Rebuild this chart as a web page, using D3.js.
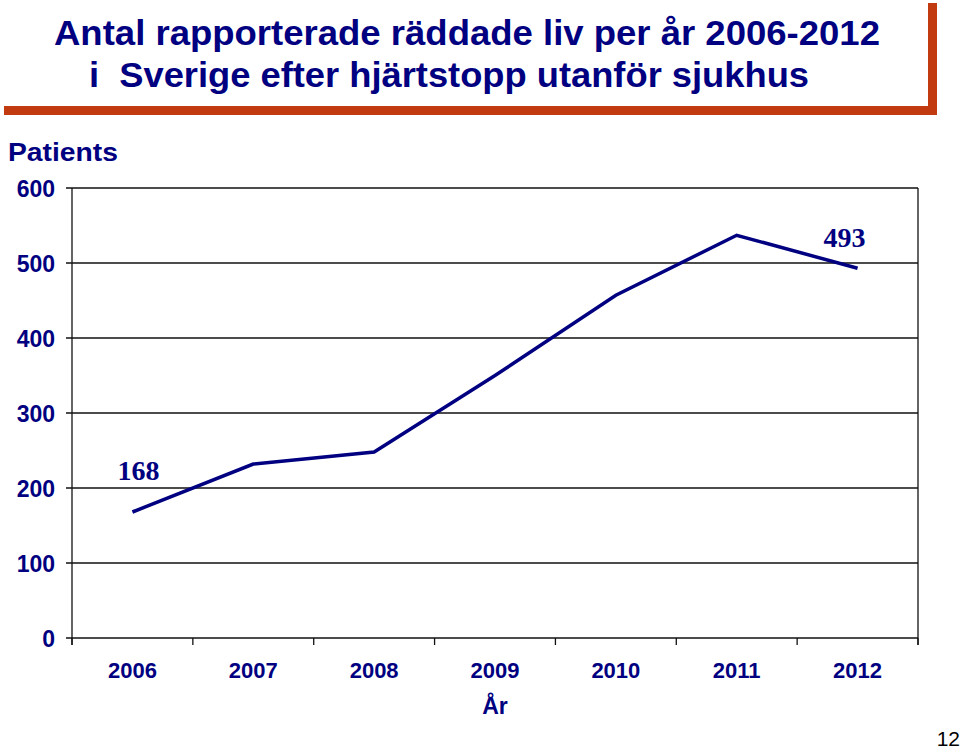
<!DOCTYPE html>
<html><head><meta charset="utf-8">
<script src="https://cdn.jsdelivr.net/npm/d3@7"></script>
<style>body{margin:0;background:#fff}svg{display:block}</style>
</head><body>
<svg id="c" width="960" height="749"></svg>
<script>
const years = ["2006","2007","2008","2009","2010","2011","2012"];
const patients = [168, 232, 248, 350, 457, 537, 493];
const yTicks = [0, 100, 200, 300, 400, 500, 600];
const titleLines = ["Antal rapporterade räddade liv per år 2006-2012", "i  Sverige efter hjärtstopp utanför sjukhus"];
const labeled = [{i:0, dx:6, dy:-32}, {i:6, dx:-13, dy:-21}];

const navy = "#000080";
const svg = d3.select("#c");
const L = 72, R = 918, T = 188, B = 638;
const x = d3.scaleBand().domain(years).range([L, R]).padding(0);
const y = d3.scaleLinear().domain([0, 600]).range([B, T]);

// title frame shadow
svg.append("rect").attr("x", 4).attr("y", 106).attr("width", 933).attr("height", 9).attr("fill", "#C23A10");
svg.append("rect").attr("x", 928).attr("y", 3).attr("width", 9).attr("height", 112).attr("fill", "#C23A10");

// title
svg.append("text").attr("x", 54).attr("y", 44.5).attr("textLength", 826).attr("lengthAdjust", "spacingAndGlyphs")
  .attr("font-family", "Liberation Sans, Arial, sans-serif").attr("font-weight", "bold").attr("font-size", 35)
  .attr("fill", navy).text(titleLines[0]);
svg.append("text").attr("x", 89).attr("y", 87).attr("textLength", 720).attr("lengthAdjust", "spacingAndGlyphs")
  .attr("font-family", "Liberation Sans, Arial, sans-serif").attr("font-weight", "bold").attr("font-size", 35)
  .attr("fill", navy).attr("style", "white-space:pre").text(titleLines[1]);

// y axis label
svg.append("text").attr("x", 8).attr("y", 161).attr("textLength", 110).attr("lengthAdjust", "spacingAndGlyphs")
  .attr("font-family", "Liberation Sans, Arial, sans-serif")
  .attr("font-weight", "bold").attr("font-size", 25).attr("fill", navy).text("Patients");

// gridlines
svg.append("g").selectAll("line").data(yTicks).join("line")
  .attr("x1", L - 6).attr("x2", R).attr("y1", d => y(d)).attr("y2", d => y(d))
  .attr("stroke", "#111").attr("stroke-width", 1.3);
// left axis and right border
svg.append("line").attr("x1", L).attr("x2", L).attr("y1", T).attr("y2", B + 7).attr("stroke", "#111").attr("stroke-width", 1.3);
svg.append("line").attr("x1", R).attr("x2", R).attr("y1", T).attr("y2", B + 7).attr("stroke", "#111").attr("stroke-width", 1.3);
// x ticks at band boundaries
const bounds = years.map(d => x(d)).concat([R]);
svg.append("g").selectAll("line").data(bounds).join("line")
  .attr("x1", d => d).attr("x2", d => d).attr("y1", B).attr("y2", B + 7)
  .attr("stroke", "#111").attr("stroke-width", 1.3);

// y tick labels
svg.append("g").selectAll("text").data(yTicks).join("text")
  .attr("x", 55).attr("y", d => y(d) + 8.5).attr("text-anchor", "end")
  .attr("font-family", "Liberation Sans, Arial, sans-serif").attr("font-weight", "bold").attr("font-size", 23)
  .attr("fill", navy).text(d => d);

// x tick labels
svg.append("g").selectAll("text").data(years).join("text")
  .attr("x", d => x(d) + x.bandwidth() / 2).attr("y", 678).attr("text-anchor", "middle")
  .attr("font-family", "Liberation Sans, Arial, sans-serif").attr("font-weight", "bold").attr("font-size", 22)
  .attr("fill", navy).text(d => d);

svg.append("text").attr("x", (L + R) / 2).attr("y", 714).attr("text-anchor", "middle")
  .attr("font-family", "Liberation Sans, Arial, sans-serif").attr("font-weight", "bold").attr("font-size", 23)
  .attr("fill", navy).text("År");

// line
const line = d3.line().x((d, i) => x(years[i]) + x.bandwidth() / 2).y(d => y(d));
svg.append("path").datum(patients).attr("d", line).attr("fill", "none")
  .attr("stroke", navy).attr("stroke-width", 3.5).attr("stroke-linejoin", "miter");

// data labels
svg.append("g").selectAll("text").data(labeled).join("text")
  .attr("x", d => x(years[d.i]) + x.bandwidth() / 2 + d.dx)
  .attr("y", d => y(patients[d.i]) + d.dy)
  .attr("text-anchor", "middle")
  .attr("font-family", "Liberation Serif, Times New Roman, serif").attr("font-weight", "bold").attr("font-size", 28)
  .attr("fill", navy).text(d => patients[d.i]);

// page number
svg.append("text").attr("x", 960).attr("y", 746).attr("text-anchor", "end")
  .attr("font-family", "Liberation Sans, Arial, sans-serif").attr("font-size", 21).attr("fill", "#000").text("12");
</script>
</body></html>
